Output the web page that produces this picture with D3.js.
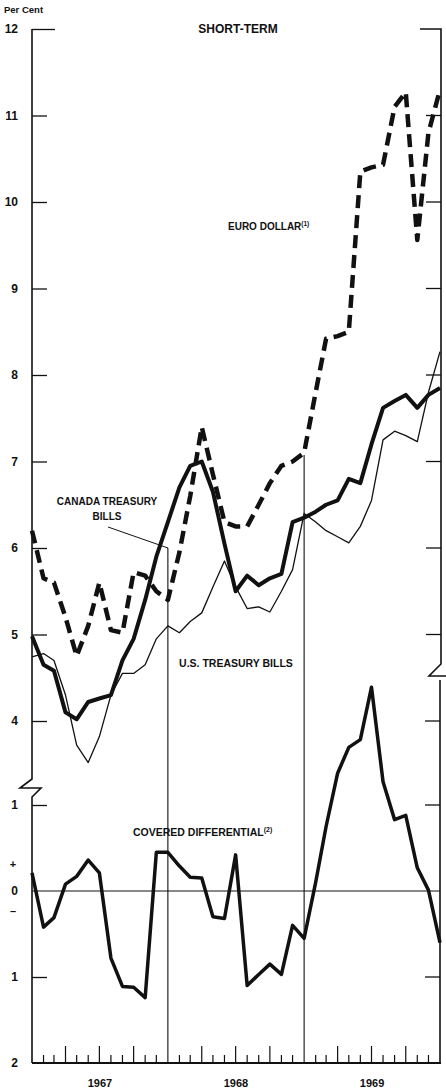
<!DOCTYPE html>
<html>
<head>
<meta charset="utf-8">
<script src="https://cdn.jsdelivr.net/npm/d3@7"></script>
<style>
  html, body { margin: 0; padding: 0; background: #fff; }
  svg { display: block; }
  text { font-family: "Liberation Sans", Arial, sans-serif; font-weight: bold; fill: #111; }
</style>
</head>
<body>
<svg id="chart" width="446" height="1092"></svg>
<script>
// ---- data (monthly, Jan 1967 .. Jan 1970) ----
const startMonth = new Date(1967, 0, 1);
const endMonth = new Date(1970, 0, 1);
const months = d3.timeMonth.range(startMonth, new Date(1970, 0, 2));

const euroDollar = [6.2, 5.65, 5.6, 5.2, 4.75, 5.1, 5.6, 5.05, 5.02, 5.72, 5.68, 5.5,
                    5.4, 5.95, 6.6, 7.4, 6.85, 6.3, 6.25, 6.25, 6.5, 6.75, 6.95, 7.0,
                    7.1, 7.8, 8.42, 8.45, 8.5, 10.35, 10.4, 10.43, 11.1, 11.27, 9.56, 10.8, 11.3];
const canadaTB = [4.98, 4.65, 4.58, 4.1, 4.02, 4.22, 4.26, 4.3, 4.7, 4.95, 5.4, 5.9,
                  6.3, 6.7, 6.95, 7.0, 6.65, 6.05, 5.5, 5.68, 5.57, 5.65, 5.7, 6.3,
                  6.35, 6.42, 6.5, 6.55, 6.8, 6.75, 7.2, 7.62, 7.7, 7.77, 7.62, 7.77, 7.85];
const usTB = [4.74, 4.78, 4.7, 4.3, 3.72, 3.52, 3.82, 4.3, 4.55, 4.55, 4.65, 4.95,
              5.1, 5.02, 5.15, 5.25, 5.55, 5.85, 5.55, 5.3, 5.32, 5.26, 5.5, 5.75,
              6.4, 6.3, 6.2, 6.13, 6.06, 6.25, 6.55, 7.25, 7.35, 7.3, 7.23, 7.8, 8.27];
const coveredDiff = [0.21, -0.42, -0.31, 0.08, 0.17, 0.36, 0.21, -0.78, -1.11, -1.12, -1.24, 0.45,
                     0.45, 0.29, 0.16, 0.15, -0.3, -0.32, 0.42, -1.1, -0.97, -0.85, -0.97, -0.4,
                     -0.55, 0.1, 0.75, 1.37, 1.67, 1.76, 2.37, 1.27, 0.83, 0.88, 0.27, 0.01, -0.6];

const upperTicks = [12, 11, 10, 9, 8, 7, 6, 5, 4];
const lowerTicks = [1, 0, -1, -2];
const years = [1967, 1968, 1969];

// ---- scales ----
const svg = d3.select("#chart");
const x = d3.scaleTime().domain([startMonth, endMonth]).range([32, 440]);
const yU = d3.scaleLinear().domain([4, 12]).range([721, 29]);
const yL = d3.scaleLinear().domain([-2, 1]).range([1063, 805]);

// ---- left axis (upper) ----
const gU = svg.append("g").attr("transform", "translate(32,0)")
  .call(d3.axisLeft(yU).tickValues(upperTicks).tickSize(-15).tickPadding(14).tickFormat(d3.format("d")));
gU.select(".domain").remove();
gU.selectAll(".tick line").attr("stroke", "#111").attr("stroke-width", 1.3)
  .attr("x2", d => d === 12 ? 23 : 15);
gU.selectAll(".tick text").attr("font-size", 12).attr("fill", "#111");

// ---- left axis (lower) ----
const gL = svg.append("g").attr("transform", "translate(32,0)")
  .call(d3.axisLeft(yL).tickValues(lowerTicks).tickSize(-15).tickPadding(14)
    .tickFormat(d => String(Math.abs(d))));
gL.select(".domain").remove();
gL.selectAll(".tick line").attr("stroke", "#111").attr("stroke-width", 1.3)
  .attr("opacity", d => (d === 0 || d === -2) ? 0 : 1);
gL.selectAll(".tick text").attr("font-size", 12).attr("fill", "#111");
svg.append("text").attr("x", 13).attr("y", yL(0.31)).attr("dy", "0.35em")
  .attr("text-anchor", "middle").attr("font-size", 11).text("+");
svg.append("text").attr("x", 13).attr("y", yL(-0.24)).attr("dy", "0.35em")
  .attr("text-anchor", "middle").attr("font-size", 11).text("–");

// left axis line with break
svg.append("path").attr("fill", "none").attr("stroke", "#111").attr("stroke-width", 1.6)
  .attr("d", `M32,${yU(12)} V779 L20,788 H41 L32,797 V${yL(-2)}`);

// right axis with break
svg.append("path").attr("fill", "none").attr("stroke", "#111").attr("stroke-width", 1.6)
  .attr("d", `M420,${yU(12)} H441 V664 L429,676 H446 M440,680 V${yL(-2)}`);
const rightTicks = svg.append("g");
rightTicks.selectAll("line.ru").data(upperTicks.filter(d => d < 12 && d > 4)).join("line")
  .attr("x1", 426).attr("x2", 441).attr("y1", d => yU(d)).attr("y2", d => yU(d))
  .attr("stroke", "#111").attr("stroke-width", 1.3);
rightTicks.selectAll("line.rl").data([yU(4), yL(1), yL(-1)]).join("line")
  .attr("x1", 425).attr("x2", 440).attr("y1", d => d).attr("y2", d => d)
  .attr("stroke", "#111").attr("stroke-width", 1.3);

// ---- bottom axis ----
svg.append("line").attr("x1", 32).attr("x2", 441).attr("y1", yL(-2)).attr("y2", yL(-2))
  .attr("stroke", "#111").attr("stroke-width", 1.8);
const tickMonths = d3.timeMonth.range(new Date(1967, 1, 1), endMonth).filter(d => d.getMonth() !== 0);
svg.append("g").selectAll("line").data(tickMonths).join("line")
  .attr("x1", d => x(d)).attr("x2", d => x(d))
  .attr("y1", d => d.getMonth() % 3 === 0 ? yL(-2) - 17 : yL(-2) - 8)
  .attr("y2", yL(-2))
  .attr("stroke", "#111").attr("stroke-width", 1.2);

// year boundary vertical lines
const yearLines = [{d: new Date(1968, 0, 1), top: 548}, {d: new Date(1969, 0, 1), top: 455}];
svg.append("g").selectAll("line").data(yearLines).join("line")
  .attr("x1", d => x(d.d)).attr("x2", d => x(d.d))
  .attr("y1", d => d.top).attr("y2", yL(-2))
  .attr("stroke", "#111").attr("stroke-width", 1.1);

svg.append("g").selectAll("text").data(years).join("text")
  .attr("x", d => (x(new Date(d, 0, 1)) + x(new Date(d + 1, 0, 1))) / 2)
  .attr("y", 1087).attr("text-anchor", "middle").attr("font-size", 11).text(d => d);

// zero line
svg.append("line").attr("x1", 32).attr("x2", 440).attr("y1", yL(0)).attr("y2", yL(0))
  .attr("stroke", "#111").attr("stroke-width", 1);

// ---- series ----
const lineU = d3.line().x((d, i) => x(months[i])).y(d => yU(d));
const lineL = d3.line().x((d, i) => x(months[i])).y(d => yL(d));

svg.append("path").datum(usTB).attr("fill", "none").attr("stroke", "#111")
  .attr("stroke-width", 1.3).attr("stroke-linejoin", "round").attr("d", lineU);
svg.append("path").datum(canadaTB).attr("fill", "none").attr("stroke", "#111")
  .attr("stroke-width", 4).attr("stroke-linejoin", "round").attr("d", lineU);
svg.append("path").datum(euroDollar).attr("fill", "none").attr("stroke", "#111")
  .attr("stroke-width", 4.5).attr("stroke-dasharray", "13,7").attr("stroke-linejoin", "round")
  .attr("d", lineU);
svg.append("path").datum(coveredDiff).attr("fill", "none").attr("stroke", "#111")
  .attr("stroke-width", 3.5).attr("stroke-linejoin", "round").attr("d", lineL);

// ---- labels ----
svg.append("text").attr("x", 4).attr("y", 13).attr("font-size", 9.5).text("Per Cent");
svg.append("text").attr("x", 238).attr("y", 33).attr("text-anchor", "middle").attr("font-size", 12).text("SHORT-TERM");

const euroLbl = svg.append("text").attr("x", 228).attr("y", 230).attr("font-size", 10);
euroLbl.append("tspan").text("EURO DOLLAR");
euroLbl.append("tspan").attr("font-size", 6.5).attr("dy", -4).text("(1)");

svg.append("text").attr("x", 107).attr("y", 505).attr("text-anchor", "middle").attr("font-size", 10).text("CANADA TREASURY");
svg.append("text").attr("x", 107).attr("y", 520).attr("text-anchor", "middle").attr("font-size", 10).text("BILLS");
svg.append("line").attr("x1", 108).attr("y1", 527).attr("x2", 168).attr("y2", 548)
  .attr("stroke", "#111").attr("stroke-width", 1);

svg.append("text").attr("x", 236).attr("y", 667).attr("text-anchor", "middle").attr("font-size", 10.5).text("U.S. TREASURY BILLS");

const covLbl = svg.append("text").attr("x", 133).attr("y", 836).attr("font-size", 10.5);
covLbl.append("tspan").text("COVERED DIFFERENTIAL");
covLbl.append("tspan").attr("font-size", 7).attr("dy", -4).text("(2)");
</script>
</body>
</html>
